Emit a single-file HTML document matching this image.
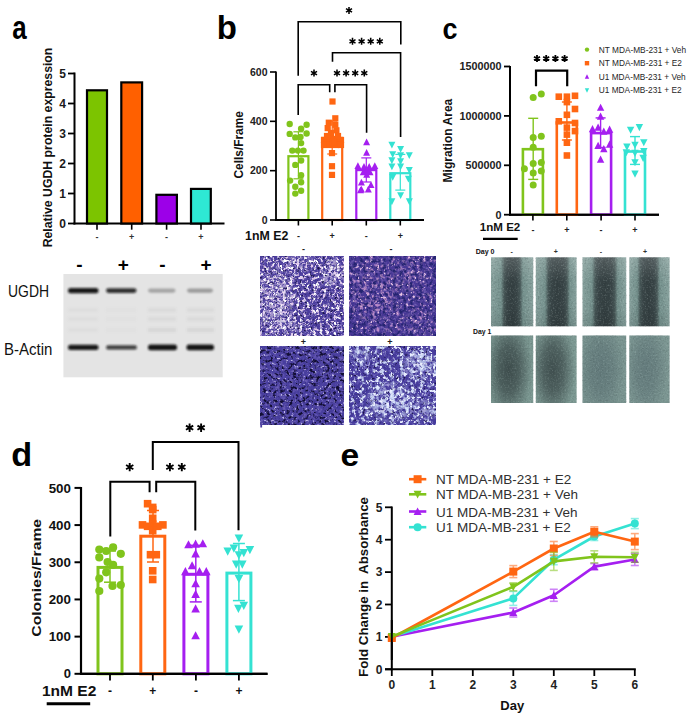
<!DOCTYPE html><html><head><meta charset="utf-8"><style>html,body{margin:0;padding:0;background:#fff;width:689px;height:720px;overflow:hidden}svg{display:block}text{font-family:"Liberation Sans",sans-serif}</style></head><body>
<svg width="689" height="720" viewBox="0 0 689 720">
<defs>
<filter id="blur1" x="-20%" y="-50%" width="140%" height="200%"><feGaussianBlur stdDeviation="1.3"/></filter>
<filter id="blur05"><feGaussianBlur stdDeviation="0.6"/></filter>
</defs>
<rect width="689" height="720" fill="#fff"/>
<text transform="translate(12.3,39) scale(0.81,1.03)" x="0" y="0" font-size="32" font-weight="bold">a</text>
<line x1="74.5" y1="72.5" x2="74.5" y2="224.5" stroke="#000" stroke-width="2"/>
<line x1="68" y1="223.5" x2="74.5" y2="223.5" stroke="#000" stroke-width="1.8"/>
<text x="66" y="227.8" font-size="12" font-weight="bold" text-anchor="end" fill="#1a1a1a">0</text>
<line x1="68" y1="193.5" x2="74.5" y2="193.5" stroke="#000" stroke-width="1.8"/>
<text x="66" y="197.8" font-size="12" font-weight="bold" text-anchor="end" fill="#1a1a1a">1</text>
<line x1="68" y1="163.5" x2="74.5" y2="163.5" stroke="#000" stroke-width="1.8"/>
<text x="66" y="167.8" font-size="12" font-weight="bold" text-anchor="end" fill="#1a1a1a">2</text>
<line x1="68" y1="133.5" x2="74.5" y2="133.5" stroke="#000" stroke-width="1.8"/>
<text x="66" y="137.8" font-size="12" font-weight="bold" text-anchor="end" fill="#1a1a1a">3</text>
<line x1="68" y1="103.5" x2="74.5" y2="103.5" stroke="#000" stroke-width="1.8"/>
<text x="66" y="107.8" font-size="12" font-weight="bold" text-anchor="end" fill="#1a1a1a">4</text>
<line x1="68" y1="73.5" x2="74.5" y2="73.5" stroke="#000" stroke-width="1.8"/>
<text x="66" y="77.8" font-size="12" font-weight="bold" text-anchor="end" fill="#1a1a1a">5</text>
<line x1="73.5" y1="223.5" x2="224.5" y2="223.5" stroke="#000" stroke-width="2.2"/>
<text transform="translate(51.8,147.5) rotate(-90)" x="0" y="0" font-size="12.3" font-weight="bold" text-anchor="middle" fill="#111" textLength="199.7" lengthAdjust="spacingAndGlyphs">Relative UGDH protein expression</text>
<rect x="87" y="90.3" width="20" height="133.2" fill="#7cc400" stroke="#000" stroke-width="2.2"/>
<rect x="121.3" y="82.4" width="20.799999999999997" height="141.1" fill="#ff6000" stroke="#000" stroke-width="2.2"/>
<rect x="156.4" y="194.8" width="20.5" height="28.69999999999999" fill="#9c00e8" stroke="#000" stroke-width="2.2"/>
<rect x="191" y="188.9" width="19.80000000000001" height="34.599999999999994" fill="#2ee8d4" stroke="#000" stroke-width="2.2"/>
<line x1="97" y1="224" x2="97" y2="229.7" stroke="#000" stroke-width="1.6"/>
<text x="97" y="240" font-size="9" font-weight="bold" text-anchor="middle" fill="#333">-</text>
<line x1="131.7" y1="224" x2="131.7" y2="229.7" stroke="#000" stroke-width="1.6"/>
<text x="131.7" y="240" font-size="9" font-weight="bold" text-anchor="middle" fill="#333">+</text>
<line x1="166.6" y1="224" x2="166.6" y2="229.7" stroke="#000" stroke-width="1.6"/>
<text x="166.6" y="240" font-size="9" font-weight="bold" text-anchor="middle" fill="#333">-</text>
<line x1="201" y1="224" x2="201" y2="229.7" stroke="#000" stroke-width="1.6"/>
<text x="201" y="240" font-size="9" font-weight="bold" text-anchor="middle" fill="#333">+</text>
<rect x="63.4" y="274" width="159.3" height="103.3" fill="#e4e4e4" stroke="none" stroke-width="0"/>
<text x="79.3" y="271" font-size="19" font-weight="bold" text-anchor="middle" fill="#000">-</text>
<text x="123.3" y="271" font-size="19" font-weight="bold" text-anchor="middle" fill="#000">+</text>
<text x="162.3" y="271" font-size="19" font-weight="bold" text-anchor="middle" fill="#000">-</text>
<text x="206" y="271" font-size="19" font-weight="bold" text-anchor="middle" fill="#000">+</text>
<text x="8" y="296.5" font-size="16" font-weight="normal" text-anchor="start" fill="#111" textLength="41" lengthAdjust="spacingAndGlyphs">UGDH</text>
<text x="4" y="355" font-size="16" font-weight="normal" text-anchor="start" fill="#111" textLength="48.3" lengthAdjust="spacingAndGlyphs">B-Actin</text>
<g filter="url(#blur1)">
<rect x="68" y="288.0" width="30.5" height="5.2" rx="2.5" fill="#111" opacity="0.95"/>
<rect x="106" y="288.3" width="30.5" height="4.6" rx="2.5" fill="#111" opacity="0.85"/>
<rect x="148" y="288.5" width="27.5" height="4.2" rx="2.5" fill="#111" opacity="0.28"/>
<rect x="187" y="288.5" width="26" height="4.2" rx="2.5" fill="#111" opacity="0.32"/>
<rect x="68" y="308" width="30" height="4" fill="#777" opacity="0.06"/>
<rect x="68" y="317" width="30" height="4" fill="#777" opacity="0.06"/>
<rect x="68" y="328" width="30" height="4" fill="#777" opacity="0.06"/>
<rect x="106" y="308" width="30" height="4" fill="#777" opacity="0.04"/>
<rect x="106" y="317" width="30" height="4" fill="#777" opacity="0.04"/>
<rect x="106" y="328" width="30" height="4" fill="#777" opacity="0.04"/>
<rect x="148" y="308" width="28" height="4" fill="#777" opacity="0.09"/>
<rect x="148" y="317" width="28" height="4" fill="#777" opacity="0.09"/>
<rect x="148" y="328" width="28" height="4" fill="#777" opacity="0.12"/>
<rect x="187" y="308" width="27" height="4" fill="#777" opacity="0.09"/>
<rect x="187" y="317" width="27" height="4" fill="#777" opacity="0.09"/>
<rect x="187" y="328" width="27" height="4" fill="#777" opacity="0.12"/>
<rect x="68" y="344.7" width="30.5" height="5.4" rx="2.5" fill="#111" opacity="0.95"/>
<rect x="106" y="345.2" width="31" height="4.4" rx="2.5" fill="#111" opacity="0.78"/>
<rect x="148" y="344.59999999999997" width="29" height="5.6" rx="2.5" fill="#111" opacity="0.97"/>
<rect x="186.5" y="344.5" width="27.5" height="5.8" rx="2.5" fill="#111" opacity="0.97"/>
</g>
<text transform="translate(216.8,39.2) scale(1.0,1.03)" x="0" y="0" font-size="33" font-weight="bold">b</text>
<line x1="276" y1="71.5" x2="276" y2="221" stroke="#000" stroke-width="1.8"/>
<line x1="270" y1="220.0" x2="276" y2="220.0" stroke="#000" stroke-width="1.6"/>
<text x="267.5" y="223.8" font-size="10.5" font-weight="bold" text-anchor="end" fill="#222">0</text>
<line x1="270" y1="170.66666666666666" x2="276" y2="170.66666666666666" stroke="#000" stroke-width="1.6"/>
<text x="267.5" y="174.46666666666667" font-size="10.5" font-weight="bold" text-anchor="end" fill="#222">200</text>
<line x1="270" y1="121.33333333333333" x2="276" y2="121.33333333333333" stroke="#000" stroke-width="1.6"/>
<text x="267.5" y="125.13333333333333" font-size="10.5" font-weight="bold" text-anchor="end" fill="#222">400</text>
<line x1="270" y1="72.0" x2="276" y2="72.0" stroke="#000" stroke-width="1.6"/>
<text x="267.5" y="75.8" font-size="10.5" font-weight="bold" text-anchor="end" fill="#222">600</text>
<line x1="275" y1="220" x2="424" y2="220" stroke="#000" stroke-width="1.8"/>
<text transform="translate(243,144.8) rotate(-90)" x="0" y="0" font-size="12" font-weight="bold" text-anchor="middle" fill="#111" textLength="67.4" lengthAdjust="spacingAndGlyphs">Cells/Frame</text>
<rect x="288.4" y="156.2" width="20" height="63.80000000000001" fill="none" stroke="#80c41c" stroke-width="2.2"/>
<rect x="322.2" y="137.9" width="20" height="82.1" fill="none" stroke="#ff6612" stroke-width="2.2"/>
<rect x="356.3" y="170.1" width="20" height="49.900000000000006" fill="none" stroke="#a51ff0" stroke-width="2.2"/>
<rect x="390.3" y="173.2" width="20" height="46.80000000000001" fill="none" stroke="#34e2d2" stroke-width="2.2"/>
<line x1="275" y1="220" x2="424" y2="220" stroke="#000" stroke-width="1.8"/>
<circle cx="289.7" cy="124.0" r="3.2" fill="#80c41c"/>
<circle cx="306.6" cy="124.8" r="3.2" fill="#80c41c"/>
<circle cx="301.1" cy="128.7" r="3.2" fill="#80c41c"/>
<circle cx="289.7" cy="133.9" r="3.2" fill="#80c41c"/>
<circle cx="306.6" cy="133.5" r="3.2" fill="#80c41c"/>
<circle cx="295.3" cy="137.4" r="3.2" fill="#80c41c"/>
<circle cx="300.5" cy="137.0" r="3.2" fill="#80c41c"/>
<circle cx="301.1" cy="143.1" r="3.2" fill="#80c41c"/>
<circle cx="292.3" cy="150.6" r="3.2" fill="#80c41c"/>
<circle cx="297.9" cy="150.6" r="3.2" fill="#80c41c"/>
<circle cx="303.5" cy="150.6" r="3.2" fill="#80c41c"/>
<circle cx="301.1" cy="160.5" r="3.2" fill="#80c41c"/>
<circle cx="295.3" cy="164.9" r="3.2" fill="#80c41c"/>
<circle cx="301.1" cy="175.3" r="3.2" fill="#80c41c"/>
<circle cx="290.1" cy="180.6" r="3.2" fill="#80c41c"/>
<circle cx="301.1" cy="182.3" r="3.2" fill="#80c41c"/>
<circle cx="295.3" cy="186.7" r="3.2" fill="#80c41c"/>
<circle cx="301.1" cy="190.7" r="3.2" fill="#80c41c"/>
<circle cx="295.3" cy="193.6" r="3.2" fill="#80c41c"/>
<rect x="329.4" y="98.4" width="6.2" height="6.2" fill="#ff6612"/>
<rect x="332.2" y="115.2" width="6.2" height="6.2" fill="#ff6612"/>
<rect x="325.7" y="119.60000000000001" width="6.2" height="6.2" fill="#ff6612"/>
<rect x="332.2" y="121.7" width="6.2" height="6.2" fill="#ff6612"/>
<rect x="324.59999999999997" y="125.0" width="6.2" height="6.2" fill="#ff6612"/>
<rect x="333.29999999999995" y="127.20000000000002" width="6.2" height="6.2" fill="#ff6612"/>
<rect x="327.9" y="129.9" width="6.2" height="6.2" fill="#ff6612"/>
<rect x="320.9" y="136.9" width="6.2" height="6.2" fill="#ff6612"/>
<rect x="326.9" y="135.9" width="6.2" height="6.2" fill="#ff6612"/>
<rect x="332.9" y="135.9" width="6.2" height="6.2" fill="#ff6612"/>
<rect x="337.9" y="136.9" width="6.2" height="6.2" fill="#ff6612"/>
<rect x="320.9" y="141.9" width="6.2" height="6.2" fill="#ff6612"/>
<rect x="326.9" y="141.9" width="6.2" height="6.2" fill="#ff6612"/>
<rect x="332.9" y="141.9" width="6.2" height="6.2" fill="#ff6612"/>
<rect x="337.9" y="141.9" width="6.2" height="6.2" fill="#ff6612"/>
<rect x="323.9" y="132.9" width="6.2" height="6.2" fill="#ff6612"/>
<rect x="334.9" y="132.9" width="6.2" height="6.2" fill="#ff6612"/>
<rect x="329.9" y="138.9" width="6.2" height="6.2" fill="#ff6612"/>
<rect x="328.9" y="150.0" width="6.2" height="6.2" fill="#ff6612"/>
<rect x="328.9" y="163.1" width="6.2" height="6.2" fill="#ff6612"/>
<rect x="328.9" y="171.8" width="6.2" height="6.2" fill="#ff6612"/>
<polygon points="366.7,166.35 363.2,173.15 370.2,173.15" fill="#a51ff0"/>
<polygon points="363.3,168.54999999999998 359.8,175.35 366.8,175.35" fill="#a51ff0"/>
<polygon points="370,168.54999999999998 366.5,175.35 373.5,175.35" fill="#a51ff0"/>
<polygon points="366.7,170.85 363.2,177.65 370.2,177.65" fill="#a51ff0"/>
<polygon points="366.6,138.54999999999998 363.1,145.35 370.1,145.35" fill="#a51ff0"/>
<polygon points="366.6,149.04999999999998 363.1,155.85 370.1,155.85" fill="#a51ff0"/>
<polygon points="357.9,162.15 354.4,168.95000000000002 361.4,168.95000000000002" fill="#a51ff0"/>
<polygon points="364,162.95 360.5,169.75 367.5,169.75" fill="#a51ff0"/>
<polygon points="369.2,162.95 365.7,169.75 372.7,169.75" fill="#a51ff0"/>
<polygon points="374.8,162.15 371.3,168.95000000000002 378.3,168.95000000000002" fill="#a51ff0"/>
<polygon points="365.7,168.25 362.2,175.05 369.2,175.05" fill="#a51ff0"/>
<polygon points="361.4,178.65 357.9,185.45000000000002 364.9,185.45000000000002" fill="#a51ff0"/>
<polygon points="361.4,185.65 357.9,192.45000000000002 364.9,192.45000000000002" fill="#a51ff0"/>
<polygon points="371,181.25 367.5,188.05 374.5,188.05" fill="#a51ff0"/>
<polygon points="368.3,185.65 364.8,192.45000000000002 371.8,192.45000000000002" fill="#a51ff0"/>
<polygon points="360.5,186.45 357.0,193.25 364.0,193.25" fill="#a51ff0"/>
<polygon points="391.9,148.55 388.4,141.75 395.4,141.75" fill="#34e2d2"/>
<polygon points="400.6,152.85 397.1,146.04999999999998 404.1,146.04999999999998" fill="#34e2d2"/>
<polygon points="392.7,158.05 389.2,151.25 396.2,151.25" fill="#34e2d2"/>
<polygon points="400.6,158.95000000000002 397.1,152.15 404.1,152.15" fill="#34e2d2"/>
<polygon points="409.3,158.95000000000002 405.8,152.15 412.8,152.15" fill="#34e2d2"/>
<polygon points="391.9,164.15 388.4,157.35 395.4,157.35" fill="#34e2d2"/>
<polygon points="400.6,165.05 397.1,158.25 404.1,158.25" fill="#34e2d2"/>
<polygon points="391.9,170.25 388.4,163.45 395.4,163.45" fill="#34e2d2"/>
<polygon points="400.6,170.25 397.1,163.45 404.1,163.45" fill="#34e2d2"/>
<polygon points="409.3,173.75 405.8,166.95 412.8,166.95" fill="#34e2d2"/>
<polygon points="392.7,180.75 389.2,173.95 396.2,173.95" fill="#34e2d2"/>
<polygon points="408.4,182.45000000000002 404.9,175.65 411.9,175.65" fill="#34e2d2"/>
<polygon points="400.6,199.05 397.1,192.25 404.1,192.25" fill="#34e2d2"/>
<polygon points="391.9,205.15 388.4,198.35 395.4,198.35" fill="#34e2d2"/>
<polygon points="409.3,205.15 405.8,198.35 412.8,198.35" fill="#34e2d2"/>
<line x1="298.4" y1="131.8" x2="298.4" y2="178.8" stroke="#80c41c" stroke-width="1.2"/>
<line x1="293.4" y1="131.8" x2="303.4" y2="131.8" stroke="#80c41c" stroke-width="1.2"/>
<line x1="293.4" y1="178.8" x2="303.4" y2="178.8" stroke="#80c41c" stroke-width="1.2"/>
<line x1="332.2" y1="121" x2="332.2" y2="154" stroke="#ff6612" stroke-width="1.2"/>
<line x1="327.2" y1="121" x2="337.2" y2="121" stroke="#ff6612" stroke-width="1.2"/>
<line x1="327.2" y1="154" x2="337.2" y2="154" stroke="#ff6612" stroke-width="1.2"/>
<line x1="366.3" y1="157.9" x2="366.3" y2="182" stroke="#a51ff0" stroke-width="1.2"/>
<line x1="361.3" y1="157.9" x2="371.3" y2="157.9" stroke="#a51ff0" stroke-width="1.2"/>
<line x1="361.3" y1="182" x2="371.3" y2="182" stroke="#a51ff0" stroke-width="1.2"/>
<line x1="400.3" y1="154.4" x2="400.3" y2="190.1" stroke="#34e2d2" stroke-width="1.2"/>
<line x1="395.3" y1="154.4" x2="405.3" y2="154.4" stroke="#34e2d2" stroke-width="1.2"/>
<line x1="395.3" y1="190.1" x2="405.3" y2="190.1" stroke="#34e2d2" stroke-width="1.2"/>
<polyline points="298.2,75.8 298.2,21.8 400.8,21.8 400.8,44.4" fill="none" stroke="#000" stroke-width="1.6" stroke-linejoin="miter" stroke-linecap="butt"/>
<polyline points="332.5,61.8 332.5,52.8 400.6,52.8 400.6,137" fill="none" stroke="#000" stroke-width="1.6" stroke-linejoin="miter" stroke-linecap="butt"/>
<polyline points="298.2,115 298.2,84.8 329.7,84.8 329.7,92.3" fill="none" stroke="#000" stroke-width="1.6" stroke-linejoin="miter" stroke-linecap="butt"/>
<polyline points="334.9,92.3 334.9,84.8 366.6,84.8 366.6,132.7" fill="none" stroke="#000" stroke-width="1.6" stroke-linejoin="miter" stroke-linecap="butt"/>
<path d="M349.00,6.90L349.00,13.90M345.97,8.65L352.03,12.15M352.03,8.65L345.97,12.15" stroke="#000" stroke-width="1.55" fill="none"/>
<path d="M352.50,37.80L352.50,44.80M349.47,39.55L355.53,43.05M355.53,39.55L349.47,43.05" stroke="#000" stroke-width="1.55" fill="none"/>
<path d="M361.60,37.80L361.60,44.80M358.57,39.55L364.63,43.05M364.63,39.55L358.57,43.05" stroke="#000" stroke-width="1.55" fill="none"/>
<path d="M370.70,37.80L370.70,44.80M367.67,39.55L373.73,43.05M373.73,39.55L367.67,43.05" stroke="#000" stroke-width="1.55" fill="none"/>
<path d="M379.80,37.80L379.80,44.80M376.77,39.55L382.83,43.05M382.83,39.55L376.77,43.05" stroke="#000" stroke-width="1.55" fill="none"/>
<path d="M314.00,69.60L314.00,76.60M310.97,71.35L317.03,74.85M317.03,71.35L310.97,74.85" stroke="#000" stroke-width="1.55" fill="none"/>
<path d="M337.00,69.60L337.00,76.60M333.97,71.35L340.03,74.85M340.03,71.35L333.97,74.85" stroke="#000" stroke-width="1.55" fill="none"/>
<path d="M346.10,69.60L346.10,76.60M343.07,71.35L349.13,74.85M349.13,71.35L343.07,74.85" stroke="#000" stroke-width="1.55" fill="none"/>
<path d="M355.20,69.60L355.20,76.60M352.17,71.35L358.23,74.85M358.23,71.35L352.17,74.85" stroke="#000" stroke-width="1.55" fill="none"/>
<path d="M364.30,69.60L364.30,76.60M361.27,71.35L367.33,74.85M367.33,71.35L361.27,74.85" stroke="#000" stroke-width="1.55" fill="none"/>
<line x1="298.4" y1="220" x2="298.4" y2="225.5" stroke="#000" stroke-width="1.6"/>
<text x="298.4" y="238.5" font-size="9" font-weight="bold" text-anchor="middle" fill="#222">-</text>
<line x1="332.2" y1="220" x2="332.2" y2="225.5" stroke="#000" stroke-width="1.6"/>
<text x="332.2" y="238.5" font-size="9" font-weight="bold" text-anchor="middle" fill="#222">+</text>
<line x1="366.3" y1="220" x2="366.3" y2="225.5" stroke="#000" stroke-width="1.6"/>
<text x="366.3" y="238.5" font-size="9" font-weight="bold" text-anchor="middle" fill="#222">-</text>
<line x1="400.3" y1="220" x2="400.3" y2="225.5" stroke="#000" stroke-width="1.6"/>
<text x="400.3" y="238.5" font-size="9" font-weight="bold" text-anchor="middle" fill="#222">+</text>
<text x="245" y="239.5" font-size="12.4" font-weight="bold" text-anchor="start" fill="#111" textLength="43.3" lengthAdjust="spacingAndGlyphs">1nM E2</text>
<filter id="nz1" filterUnits="userSpaceOnUse" x="260.5" y="256.5" width="83.5" height="79" color-interpolation-filters="sRGB"><feFlood flood-color="#4a3c9c" result="base"/><feTurbulence type="fractalNoise" baseFrequency="0.3" numOctaves="3" seed="11" result="t0"/><feColorMatrix in="t0" type="matrix" values="0 0 0 0 0  0 0 0 0 0  0 0 0 0 0  1 0 0 0 0" result="a0"/><feComponentTransfer in="a0" result="m0"><feFuncA type="linear" slope="3" intercept="-1.4"/></feComponentTransfer><feFlood flood-color="#7262b8" result="c0"/><feComposite in="c0" in2="m0" operator="in" result="l0"/><feTurbulence type="fractalNoise" baseFrequency="0.3" numOctaves="3" seed="3" result="t1"/><feColorMatrix in="t1" type="matrix" values="0 0 0 0 0  0 0 0 0 0  0 0 0 0 0  1 0 0 0 0" result="a1"/><feComponentTransfer in="a1" result="m1"><feFuncA type="linear" slope="7" intercept="-3.9"/></feComponentTransfer><feFlood flood-color="#ffffff" result="c1"/><feComposite in="c1" in2="m1" operator="in" result="l1"/><feTurbulence type="fractalNoise" baseFrequency="0.35" numOctaves="3" seed="5" result="t2"/><feColorMatrix in="t2" type="matrix" values="0 0 0 0 0  0 0 0 0 0  0 0 0 0 0  1 0 0 0 0" result="a2"/><feComponentTransfer in="a2" result="m2"><feFuncA type="linear" slope="6" intercept="-3.3"/></feComponentTransfer><feFlood flood-color="#e0c8ec" result="c2"/><feComposite in="c2" in2="m2" operator="in" result="l2"/><feTurbulence type="fractalNoise" baseFrequency="0.4" numOctaves="3" seed="7" result="t3"/><feColorMatrix in="t3" type="matrix" values="0 0 0 0 0  0 0 0 0 0  0 0 0 0 0  1 0 0 0 0" result="a3"/><feComponentTransfer in="a3" result="m3"><feFuncA type="linear" slope="6" intercept="-3.6"/></feComponentTransfer><feFlood flood-color="#1c1650" result="c3"/><feComposite in="c3" in2="m3" operator="in" result="l3"/><feMerge result="mg"><feMergeNode in="base"/><feMergeNode in="l0"/><feMergeNode in="l1"/><feMergeNode in="l2"/><feMergeNode in="l3"/></feMerge><feGaussianBlur in="mg" stdDeviation="0.45"/></filter>
<g><rect x="260.5" y="256.5" width="83.5" height="79" fill="#000" filter="url(#nz1)"/></g>
<mask id="mk1" maskUnits="userSpaceOnUse" x="0" y="0" width="689" height="720"><radialGradient id="mk1g0"><stop offset="0" stop-color="#fff" stop-opacity="0.75"/><stop offset="0.6" stop-color="#fff" stop-opacity="0.52"/><stop offset="1" stop-color="#fff" stop-opacity="0"/></radialGradient><ellipse cx="276" cy="300" rx="22" ry="38" fill="url(#mk1g0)"/><radialGradient id="mk1g1"><stop offset="0" stop-color="#fff" stop-opacity="0.75"/><stop offset="0.6" stop-color="#fff" stop-opacity="0.52"/><stop offset="1" stop-color="#fff" stop-opacity="0"/></radialGradient><ellipse cx="334" cy="272" rx="16" ry="18" fill="url(#mk1g1)"/><radialGradient id="mk1g2"><stop offset="0" stop-color="#fff" stop-opacity="0.5"/><stop offset="0.6" stop-color="#fff" stop-opacity="0.35"/><stop offset="1" stop-color="#fff" stop-opacity="0"/></radialGradient><ellipse cx="300" cy="262" rx="16" ry="10" fill="url(#mk1g2)"/><radialGradient id="mk1g3"><stop offset="0" stop-color="#fff" stop-opacity="0.6"/><stop offset="0.6" stop-color="#fff" stop-opacity="0.42"/><stop offset="1" stop-color="#fff" stop-opacity="0"/></radialGradient><ellipse cx="285" cy="326" rx="20" ry="10" fill="url(#mk1g3)"/></mask>
<filter id="nz2" filterUnits="userSpaceOnUse" x="260.5" y="256.5" width="83.5" height="79" color-interpolation-filters="sRGB"><feFlood flood-color="#000" flood-opacity="0" result="base"/><feTurbulence type="fractalNoise" baseFrequency="0.3" numOctaves="3" seed="61" result="t0"/><feColorMatrix in="t0" type="matrix" values="0 0 0 0 0  0 0 0 0 0  0 0 0 0 0  1 0 0 0 0" result="a0"/><feComponentTransfer in="a0" result="m0"><feFuncA type="linear" slope="5" intercept="-2.5"/></feComponentTransfer><feFlood flood-color="#ffffff" result="c0"/><feComposite in="c0" in2="m0" operator="in" result="l0"/><feTurbulence type="fractalNoise" baseFrequency="0.35" numOctaves="3" seed="62" result="t1"/><feColorMatrix in="t1" type="matrix" values="0 0 0 0 0  0 0 0 0 0  0 0 0 0 0  1 0 0 0 0" result="a1"/><feComponentTransfer in="a1" result="m1"><feFuncA type="linear" slope="6" intercept="-3.0"/></feComponentTransfer><feFlood flood-color="#e8d8f4" result="c1"/><feComposite in="c1" in2="m1" operator="in" result="l1"/><feMerge result="mg"><feMergeNode in="base"/><feMergeNode in="l0"/><feMergeNode in="l1"/></feMerge><feGaussianBlur in="mg" stdDeviation="0.45"/></filter>
<g mask="url(#mk1)"><rect x="260.5" y="256.5" width="83.5" height="79" fill="#000" filter="url(#nz2)"/></g>
<filter id="nz3" filterUnits="userSpaceOnUse" x="349.5" y="256.5" width="86" height="79" color-interpolation-filters="sRGB"><feFlood flood-color="#483896" result="base"/><feTurbulence type="fractalNoise" baseFrequency="0.3" numOctaves="3" seed="21" result="t0"/><feColorMatrix in="t0" type="matrix" values="0 0 0 0 0  0 0 0 0 0  0 0 0 0 0  1 0 0 0 0" result="a0"/><feComponentTransfer in="a0" result="m0"><feFuncA type="linear" slope="3" intercept="-1.4"/></feComponentTransfer><feFlood flood-color="#7460b4" result="c0"/><feComposite in="c0" in2="m0" operator="in" result="l0"/><feTurbulence type="fractalNoise" baseFrequency="0.25" numOctaves="3" seed="13" result="t1"/><feColorMatrix in="t1" type="matrix" values="0 0 0 0 0  0 0 0 0 0  0 0 0 0 0  1 0 0 0 0" result="a1"/><feComponentTransfer in="a1" result="m1"><feFuncA type="linear" slope="5" intercept="-2.8"/></feComponentTransfer><feFlood flood-color="#b888c8" result="c1"/><feComposite in="c1" in2="m1" operator="in" result="l1"/><feTurbulence type="fractalNoise" baseFrequency="0.3" numOctaves="3" seed="19" result="t2"/><feColorMatrix in="t2" type="matrix" values="0 0 0 0 0  0 0 0 0 0  0 0 0 0 0  1 0 0 0 0" result="a2"/><feComponentTransfer in="a2" result="m2"><feFuncA type="linear" slope="7" intercept="-4.3"/></feComponentTransfer><feFlood flood-color="#e8c4e4" result="c2"/><feComposite in="c2" in2="m2" operator="in" result="l2"/><feTurbulence type="fractalNoise" baseFrequency="0.3" numOctaves="3" seed="17" result="t3"/><feColorMatrix in="t3" type="matrix" values="0 0 0 0 0  0 0 0 0 0  0 0 0 0 0  1 0 0 0 0" result="a3"/><feComponentTransfer in="a3" result="m3"><feFuncA type="linear" slope="4" intercept="-1.85"/></feComponentTransfer><feFlood flood-color="#242470" result="c3"/><feComposite in="c3" in2="m3" operator="in" result="l3"/><feMerge result="mg"><feMergeNode in="base"/><feMergeNode in="l0"/><feMergeNode in="l1"/><feMergeNode in="l2"/><feMergeNode in="l3"/></feMerge><feGaussianBlur in="mg" stdDeviation="0.45"/></filter>
<g><rect x="349.5" y="256.5" width="86" height="79" fill="#000" filter="url(#nz3)"/></g>
<mask id="mk2" maskUnits="userSpaceOnUse" x="0" y="0" width="689" height="720"><radialGradient id="mk2g0"><stop offset="0" stop-color="#fff" stop-opacity="1"/><stop offset="0.6" stop-color="#fff" stop-opacity="0.70"/><stop offset="1" stop-color="#fff" stop-opacity="0"/></radialGradient><ellipse cx="375" cy="295" rx="25" ry="35" fill="url(#mk2g0)"/><radialGradient id="mk2g1"><stop offset="0" stop-color="#fff" stop-opacity="0.7"/><stop offset="0.6" stop-color="#fff" stop-opacity="0.49"/><stop offset="1" stop-color="#fff" stop-opacity="0"/></radialGradient><ellipse cx="410" cy="275" rx="20" ry="18" fill="url(#mk2g1)"/><radialGradient id="mk2g2"><stop offset="0" stop-color="#fff" stop-opacity="0.6"/><stop offset="0.6" stop-color="#fff" stop-opacity="0.42"/><stop offset="1" stop-color="#fff" stop-opacity="0"/></radialGradient><ellipse cx="420" cy="320" rx="18" ry="14" fill="url(#mk2g2)"/></mask>
<filter id="nz4" filterUnits="userSpaceOnUse" x="349.5" y="256.5" width="86" height="79" color-interpolation-filters="sRGB"><feFlood flood-color="#000" flood-opacity="0" result="base"/><feTurbulence type="fractalNoise" baseFrequency="0.25" numOctaves="3" seed="63" result="t0"/><feColorMatrix in="t0" type="matrix" values="0 0 0 0 0  0 0 0 0 0  0 0 0 0 0  1 0 0 0 0" result="a0"/><feComponentTransfer in="a0" result="m0"><feFuncA type="linear" slope="5" intercept="-2.7"/></feComponentTransfer><feFlood flood-color="#c898cc" result="c0"/><feComposite in="c0" in2="m0" operator="in" result="l0"/><feMerge result="mg"><feMergeNode in="base"/><feMergeNode in="l0"/></feMerge><feGaussianBlur in="mg" stdDeviation="0.45"/></filter>
<g mask="url(#mk2)"><rect x="349.5" y="256.5" width="86" height="79" fill="#000" filter="url(#nz4)"/></g>
<filter id="nz5" filterUnits="userSpaceOnUse" x="260.5" y="346.5" width="83.5" height="78.5" color-interpolation-filters="sRGB"><feFlood flood-color="#483e9e" result="base"/><feTurbulence type="fractalNoise" baseFrequency="0.3" numOctaves="3" seed="31" result="t0"/><feColorMatrix in="t0" type="matrix" values="0 0 0 0 0  0 0 0 0 0  0 0 0 0 0  1 0 0 0 0" result="a0"/><feComponentTransfer in="a0" result="m0"><feFuncA type="linear" slope="3" intercept="-1.4"/></feComponentTransfer><feFlood flood-color="#6e60b8" result="c0"/><feComposite in="c0" in2="m0" operator="in" result="l0"/><feTurbulence type="fractalNoise" baseFrequency="0.35" numOctaves="3" seed="23" result="t1"/><feColorMatrix in="t1" type="matrix" values="0 0 0 0 0  0 0 0 0 0  0 0 0 0 0  1 0 0 0 0" result="a1"/><feComponentTransfer in="a1" result="m1"><feFuncA type="linear" slope="6" intercept="-3.8"/></feComponentTransfer><feFlood flood-color="#c0b8e8" result="c1"/><feComposite in="c1" in2="m1" operator="in" result="l1"/><feTurbulence type="fractalNoise" baseFrequency="0.3" numOctaves="3" seed="27" result="t2"/><feColorMatrix in="t2" type="matrix" values="0 0 0 0 0  0 0 0 0 0  0 0 0 0 0  1 0 0 0 0" result="a2"/><feComponentTransfer in="a2" result="m2"><feFuncA type="linear" slope="5" intercept="-2.6"/></feComponentTransfer><feFlood flood-color="#120e34" result="c2"/><feComposite in="c2" in2="m2" operator="in" result="l2"/><feMerge result="mg"><feMergeNode in="base"/><feMergeNode in="l0"/><feMergeNode in="l1"/><feMergeNode in="l2"/></feMerge><feGaussianBlur in="mg" stdDeviation="0.45"/></filter>
<g><rect x="260.5" y="346.5" width="83.5" height="78.5" fill="#000" filter="url(#nz5)"/></g>
<filter id="nz6" filterUnits="userSpaceOnUse" x="349.5" y="346.5" width="86" height="78.5" color-interpolation-filters="sRGB"><feFlood flood-color="#463b9c" result="base"/><feTurbulence type="fractalNoise" baseFrequency="0.3" numOctaves="3" seed="41" result="t0"/><feColorMatrix in="t0" type="matrix" values="0 0 0 0 0  0 0 0 0 0  0 0 0 0 0  1 0 0 0 0" result="a0"/><feComponentTransfer in="a0" result="m0"><feFuncA type="linear" slope="3" intercept="-1.4"/></feComponentTransfer><feFlood flood-color="#6a5eb8" result="c0"/><feComposite in="c0" in2="m0" operator="in" result="l0"/><feTurbulence type="fractalNoise" baseFrequency="0.2" numOctaves="3" seed="33" result="t1"/><feColorMatrix in="t1" type="matrix" values="0 0 0 0 0  0 0 0 0 0  0 0 0 0 0  1 0 0 0 0" result="a1"/><feComponentTransfer in="a1" result="m1"><feFuncA type="linear" slope="5" intercept="-2.7"/></feComponentTransfer><feFlood flood-color="#c8d4f4" result="c1"/><feComposite in="c1" in2="m1" operator="in" result="l1"/><feTurbulence type="fractalNoise" baseFrequency="0.3" numOctaves="3" seed="43" result="t2"/><feColorMatrix in="t2" type="matrix" values="0 0 0 0 0  0 0 0 0 0  0 0 0 0 0  1 0 0 0 0" result="a2"/><feComponentTransfer in="a2" result="m2"><feFuncA type="linear" slope="7" intercept="-4.0"/></feComponentTransfer><feFlood flood-color="#e8eeff" result="c2"/><feComposite in="c2" in2="m2" operator="in" result="l2"/><feTurbulence type="fractalNoise" baseFrequency="0.35" numOctaves="3" seed="37" result="t3"/><feColorMatrix in="t3" type="matrix" values="0 0 0 0 0  0 0 0 0 0  0 0 0 0 0  1 0 0 0 0" result="a3"/><feComponentTransfer in="a3" result="m3"><feFuncA type="linear" slope="5" intercept="-3.1"/></feComponentTransfer><feFlood flood-color="#1c1448" result="c3"/><feComposite in="c3" in2="m3" operator="in" result="l3"/><feMerge result="mg"><feMergeNode in="base"/><feMergeNode in="l0"/><feMergeNode in="l1"/><feMergeNode in="l2"/><feMergeNode in="l3"/></feMerge><feGaussianBlur in="mg" stdDeviation="0.45"/></filter>
<g><rect x="349.5" y="346.5" width="86" height="78.5" fill="#000" filter="url(#nz6)"/></g>
<mask id="mk4" maskUnits="userSpaceOnUse" x="0" y="0" width="689" height="720"><radialGradient id="mk4g0"><stop offset="0" stop-color="#fff" stop-opacity="1"/><stop offset="0.6" stop-color="#fff" stop-opacity="0.70"/><stop offset="1" stop-color="#fff" stop-opacity="0"/></radialGradient><ellipse cx="392" cy="402" rx="28" ry="22" fill="url(#mk4g0)"/><radialGradient id="mk4g1"><stop offset="0" stop-color="#fff" stop-opacity="0.9"/><stop offset="0.6" stop-color="#fff" stop-opacity="0.63"/><stop offset="1" stop-color="#fff" stop-opacity="0"/></radialGradient><ellipse cx="420" cy="365" rx="18" ry="18" fill="url(#mk4g1)"/><radialGradient id="mk4g2"><stop offset="0" stop-color="#fff" stop-opacity="0.7"/><stop offset="0.6" stop-color="#fff" stop-opacity="0.49"/><stop offset="1" stop-color="#fff" stop-opacity="0"/></radialGradient><ellipse cx="360" cy="356" rx="12" ry="10" fill="url(#mk4g2)"/><radialGradient id="mk4g3"><stop offset="0" stop-color="#fff" stop-opacity="0.6"/><stop offset="0.6" stop-color="#fff" stop-opacity="0.42"/><stop offset="1" stop-color="#fff" stop-opacity="0"/></radialGradient><ellipse cx="425" cy="410" rx="12" ry="12" fill="url(#mk4g3)"/></mask>
<filter id="nz7" filterUnits="userSpaceOnUse" x="349.5" y="346.5" width="86" height="78.5" color-interpolation-filters="sRGB"><feFlood flood-color="#000" flood-opacity="0" result="base"/><feTurbulence type="fractalNoise" baseFrequency="0.22" numOctaves="3" seed="65" result="t0"/><feColorMatrix in="t0" type="matrix" values="0 0 0 0 0  0 0 0 0 0  0 0 0 0 0  1 0 0 0 0" result="a0"/><feComponentTransfer in="a0" result="m0"><feFuncA type="linear" slope="4" intercept="-1.7"/></feComponentTransfer><feFlood flood-color="#c8d6f6" result="c0"/><feComposite in="c0" in2="m0" operator="in" result="l0"/><feTurbulence type="fractalNoise" baseFrequency="0.3" numOctaves="3" seed="66" result="t1"/><feColorMatrix in="t1" type="matrix" values="0 0 0 0 0  0 0 0 0 0  0 0 0 0 0  1 0 0 0 0" result="a1"/><feComponentTransfer in="a1" result="m1"><feFuncA type="linear" slope="6" intercept="-3.2"/></feComponentTransfer><feFlood flood-color="#eef2ff" result="c1"/><feComposite in="c1" in2="m1" operator="in" result="l1"/><feMerge result="mg"><feMergeNode in="base"/><feMergeNode in="l0"/><feMergeNode in="l1"/></feMerge><feGaussianBlur in="mg" stdDeviation="0.45"/></filter>
<g mask="url(#mk4)"><rect x="349.5" y="346.5" width="86" height="78.5" fill="#000" filter="url(#nz7)"/></g>
<rect x="260.3" y="424.5" width="1.8" height="3" fill="#4a3c9c" stroke="none" stroke-width="0"/>
<text x="303.4" y="251.5" font-size="9" font-weight="bold" text-anchor="middle" fill="#222">-</text>
<text x="391" y="251.5" font-size="9" font-weight="bold" text-anchor="middle" fill="#222">-</text>
<text x="303.4" y="344.5" font-size="9" font-weight="bold" text-anchor="middle" fill="#222">+</text>
<text x="390" y="344.5" font-size="9" font-weight="bold" text-anchor="middle" fill="#222">+</text>
<text transform="translate(442.4,39.2) scale(0.9,1.0)" x="0" y="0" font-size="30" font-weight="bold">c</text>
<line x1="510" y1="66" x2="510" y2="215.5" stroke="#000" stroke-width="2"/>
<line x1="504" y1="214.7" x2="510" y2="214.7" stroke="#000" stroke-width="1.8"/>
<text x="501.5" y="218.6" font-size="10.8" font-weight="bold" text-anchor="end" fill="#222">0</text>
<line x1="504" y1="165.3" x2="510" y2="165.3" stroke="#000" stroke-width="1.8"/>
<text x="501.5" y="169.20000000000002" font-size="10.8" font-weight="bold" text-anchor="end" fill="#222">500000</text>
<line x1="504" y1="115.9" x2="510" y2="115.9" stroke="#000" stroke-width="1.8"/>
<text x="501.5" y="119.80000000000001" font-size="10.8" font-weight="bold" text-anchor="end" fill="#222">1000000</text>
<line x1="504" y1="66.5" x2="510" y2="66.5" stroke="#000" stroke-width="1.8"/>
<text x="501.5" y="70.4" font-size="10.8" font-weight="bold" text-anchor="end" fill="#222">1500000</text>
<line x1="509" y1="214.7" x2="659" y2="214.7" stroke="#000" stroke-width="2"/>
<text transform="translate(452.3,140.6) rotate(-90)" x="0" y="0" font-size="12" font-weight="bold" text-anchor="middle" fill="#111" textLength="83.7" lengthAdjust="spacingAndGlyphs">Migration Area</text>
<rect x="522.9" y="149.2" width="20" height="65.5" fill="none" stroke="#80c41c" stroke-width="2.6"/>
<rect x="556.8" y="122.5" width="20" height="92.19999999999999" fill="none" stroke="#ff6612" stroke-width="2.6"/>
<rect x="591.1" y="133.1" width="20" height="81.6" fill="none" stroke="#a51ff0" stroke-width="2.6"/>
<rect x="625" y="151.5" width="20" height="63.19999999999999" fill="none" stroke="#34e2d2" stroke-width="2.6"/>
<line x1="509" y1="214.7" x2="659" y2="214.7" stroke="#000" stroke-width="2"/>
<circle cx="533.2" cy="97.4" r="3.5" fill="#80c41c"/>
<circle cx="541.3" cy="93.9" r="3.5" fill="#80c41c"/>
<circle cx="533.2" cy="137.4" r="3.5" fill="#80c41c"/>
<circle cx="541.3" cy="136.2" r="3.5" fill="#80c41c"/>
<circle cx="533.2" cy="147.3" r="3.5" fill="#80c41c"/>
<circle cx="524.4" cy="168.7" r="3.5" fill="#80c41c"/>
<circle cx="533.2" cy="163.6" r="3.5" fill="#80c41c"/>
<circle cx="541.3" cy="162.4" r="3.5" fill="#80c41c"/>
<circle cx="541.3" cy="171" r="3.5" fill="#80c41c"/>
<circle cx="533.2" cy="172.9" r="3.5" fill="#80c41c"/>
<circle cx="533.2" cy="185" r="3.5" fill="#80c41c"/>
<rect x="555.5" y="93.4" width="6.6" height="6.6" fill="#ff6612"/>
<rect x="563.6" y="93.4" width="6.6" height="6.6" fill="#ff6612"/>
<rect x="571.7" y="92.5" width="6.6" height="6.6" fill="#ff6612"/>
<rect x="563.6" y="98.8" width="6.6" height="6.6" fill="#ff6612"/>
<rect x="571.7" y="105.7" width="6.6" height="6.6" fill="#ff6612"/>
<rect x="563.6" y="111.5" width="6.6" height="6.6" fill="#ff6612"/>
<rect x="555.5" y="118.0" width="6.6" height="6.6" fill="#ff6612"/>
<rect x="571.7" y="119.7" width="6.6" height="6.6" fill="#ff6612"/>
<rect x="563.6" y="124.3" width="6.6" height="6.6" fill="#ff6612"/>
<rect x="571.7" y="127.8" width="6.6" height="6.6" fill="#ff6612"/>
<rect x="563.6" y="131.29999999999998" width="6.6" height="6.6" fill="#ff6612"/>
<rect x="563.6" y="139.39999999999998" width="6.6" height="6.6" fill="#ff6612"/>
<rect x="563.6" y="152.2" width="6.6" height="6.6" fill="#ff6612"/>
<polygon points="600.6,103.67 596.9,110.83 604.3000000000001,110.83" fill="#a51ff0"/>
<polygon points="600.6,112.47 596.9,119.63 604.3000000000001,119.63" fill="#a51ff0"/>
<polygon points="592.5,124.97000000000001 588.8,132.13000000000002 596.2,132.13000000000002" fill="#a51ff0"/>
<polygon points="598.1,123.47 594.4,130.63 601.8000000000001,130.63" fill="#a51ff0"/>
<polygon points="603.8,127.47000000000001 600.0999999999999,134.63000000000002 607.5,134.63000000000002" fill="#a51ff0"/>
<polygon points="609.6,125.57000000000001 605.9,132.73000000000002 613.3000000000001,132.73000000000002" fill="#a51ff0"/>
<polygon points="598.1,141.76999999999998 594.4,148.93 601.8000000000001,148.93" fill="#a51ff0"/>
<polygon points="603.8,144.97 600.0999999999999,152.13000000000002 607.5,152.13000000000002" fill="#a51ff0"/>
<polygon points="609.6,140.57 605.9,147.73000000000002 613.3000000000001,147.73000000000002" fill="#a51ff0"/>
<polygon points="600.6,155.57 596.9,162.73000000000002 604.3000000000001,162.73000000000002" fill="#a51ff0"/>
<polygon points="630.6,133.83 626.9,126.67 634.3000000000001,126.67" fill="#34e2d2"/>
<polygon points="639.4,131.13 635.6999999999999,123.97 643.1,123.97" fill="#34e2d2"/>
<polygon points="626.9,150.73000000000002 623.1999999999999,143.57 630.6,143.57" fill="#34e2d2"/>
<polygon points="635,148.83 631.3,141.67 638.7,141.67" fill="#34e2d2"/>
<polygon points="643.8,146.33 640.0999999999999,139.17 647.5,139.17" fill="#34e2d2"/>
<polygon points="626.3,156.33 622.5999999999999,149.17 630.0,149.17" fill="#34e2d2"/>
<polygon points="635,156.93 631.3,149.76999999999998 638.7,149.76999999999998" fill="#34e2d2"/>
<polygon points="643.8,155.13000000000002 640.0999999999999,147.97 647.5,147.97" fill="#34e2d2"/>
<polygon points="643.1,161.93 639.4,154.76999999999998 646.8000000000001,154.76999999999998" fill="#34e2d2"/>
<polygon points="635,166.33 631.3,159.17 638.7,159.17" fill="#34e2d2"/>
<polygon points="635,177.63000000000002 631.3,170.47 638.7,170.47" fill="#34e2d2"/>
<line x1="533.2" y1="118.3" x2="533.2" y2="179.4" stroke="#80c41c" stroke-width="1.4"/>
<line x1="528.2" y1="118.3" x2="538.2" y2="118.3" stroke="#80c41c" stroke-width="1.4"/>
<line x1="528.2" y1="179.4" x2="538.2" y2="179.4" stroke="#80c41c" stroke-width="1.4"/>
<line x1="566.9" y1="102" x2="566.9" y2="140" stroke="#ff6612" stroke-width="1.4"/>
<line x1="561.9" y1="102" x2="571.9" y2="102" stroke="#ff6612" stroke-width="1.4"/>
<line x1="561.9" y1="140" x2="571.9" y2="140" stroke="#ff6612" stroke-width="1.4"/>
<line x1="600.6" y1="117.9" x2="600.6" y2="147.5" stroke="#a51ff0" stroke-width="1.4"/>
<line x1="595.6" y1="117.9" x2="605.6" y2="117.9" stroke="#a51ff0" stroke-width="1.4"/>
<line x1="595.6" y1="147.5" x2="605.6" y2="147.5" stroke="#a51ff0" stroke-width="1.4"/>
<line x1="635" y1="136.6" x2="635" y2="164.4" stroke="#34e2d2" stroke-width="1.4"/>
<line x1="630.0" y1="136.6" x2="640.0" y2="136.6" stroke="#34e2d2" stroke-width="1.4"/>
<line x1="630.0" y1="164.4" x2="640.0" y2="164.4" stroke="#34e2d2" stroke-width="1.4"/>
<polyline points="536,86.2 536,70.7 567.2,70.7 567.2,86.2" fill="none" stroke="#000" stroke-width="2.2" stroke-linejoin="miter" stroke-linecap="butt"/>
<path d="M537.00,55.00L537.00,62.00M533.97,56.75L540.03,60.25M540.03,56.75L533.97,60.25" stroke="#000" stroke-width="1.8" fill="none"/>
<path d="M546.20,55.00L546.20,62.00M543.17,56.75L549.23,60.25M549.23,56.75L543.17,60.25" stroke="#000" stroke-width="1.8" fill="none"/>
<path d="M555.40,55.00L555.40,62.00M552.37,56.75L558.43,60.25M558.43,56.75L552.37,60.25" stroke="#000" stroke-width="1.8" fill="none"/>
<path d="M564.60,55.00L564.60,62.00M561.57,56.75L567.63,60.25M567.63,56.75L561.57,60.25" stroke="#000" stroke-width="1.8" fill="none"/>
<line x1="532.9" y1="215" x2="532.9" y2="220.5" stroke="#000" stroke-width="1.6"/>
<text x="532.9" y="232.5" font-size="9" font-weight="bold" text-anchor="middle" fill="#222">-</text>
<line x1="566.8" y1="215" x2="566.8" y2="220.5" stroke="#000" stroke-width="1.6"/>
<text x="566.8" y="232.5" font-size="9" font-weight="bold" text-anchor="middle" fill="#222">+</text>
<line x1="601.1" y1="215" x2="601.1" y2="220.5" stroke="#000" stroke-width="1.6"/>
<text x="601.1" y="232.5" font-size="9" font-weight="bold" text-anchor="middle" fill="#222">-</text>
<line x1="635" y1="215" x2="635" y2="220.5" stroke="#000" stroke-width="1.6"/>
<text x="635" y="232.5" font-size="9" font-weight="bold" text-anchor="middle" fill="#222">+</text>
<text x="479.8" y="231.3" font-size="11.5" font-weight="bold" text-anchor="start" fill="#111" textLength="40.5" lengthAdjust="spacingAndGlyphs">1nM E2</text>
<line x1="483" y1="238.8" x2="517.7" y2="238.8" stroke="#000" stroke-width="2.2"/>
<circle cx="587" cy="49.6" r="2.2" fill="#80c41c"/>
<text x="598.8" y="52.6" font-size="8.3" font-weight="normal" text-anchor="start" fill="#262626">NT MDA-MB-231 + Veh</text>
<rect x="584.8" y="61.0" width="4.4" height="4.4" fill="#ff6612"/>
<text x="598.8" y="66.2" font-size="8.3" font-weight="normal" text-anchor="start" fill="#262626">NT MDA-MB-231 + E2</text>
<polygon points="587,74.32 584.8,78.78 589.2,78.78" fill="#a51ff0"/>
<text x="598.8" y="79.8" font-size="8.3" font-weight="normal" text-anchor="start" fill="#262626">U1 MDA-MB-231 + Veh</text>
<polygon points="587,92.68 584.8,88.22 589.2,88.22" fill="#34e2d2"/>
<text x="598.8" y="93.2" font-size="8.3" font-weight="normal" text-anchor="start" fill="#262626">U1 MDA-MB-231 + E2</text>
<linearGradient id="sg8" x1="0" y1="0" x2="1" y2="0"><stop offset="0.000" stop-color="#86a09c"/><stop offset="0.239" stop-color="#74908c"/><stop offset="0.309" stop-color="#465656"/><stop offset="0.384" stop-color="#384446"/><stop offset="0.498" stop-color="#333e40"/><stop offset="0.611" stop-color="#384446"/><stop offset="0.686" stop-color="#465656"/><stop offset="0.756" stop-color="#74908c"/><stop offset="1.000" stop-color="#88a29e"/></linearGradient>
<rect x="491" y="257.3" width="42.200000000000045" height="69" fill="url(#sg8)" opacity="1"/>
<linearGradient id="sg9" x1="0" y1="0" x2="0" y2="1"><stop offset="0.000" stop-color="#ffffff" stop-opacity="0.16"/><stop offset="0.350" stop-color="#ffffff" stop-opacity="0.0"/><stop offset="0.700" stop-color="#000000" stop-opacity="0.0"/><stop offset="1.000" stop-color="#000000" stop-opacity="0.08"/></linearGradient>
<rect x="491" y="257.3" width="42.200000000000045" height="69" fill="url(#sg9)" opacity="1"/>
<filter id="sn10" filterUnits="userSpaceOnUse" x="491" y="257.3" width="42.200000000000045" height="69" color-interpolation-filters="sRGB"><feTurbulence type="fractalNoise" baseFrequency="0.6" numOctaves="2" seed="1" result="t"/><feColorMatrix in="t" type="matrix" values="0 0 0 0 0.9  0 0 0 0 0.97  0 0 0 0 0.95  2.2 0 0 0 -1.1"/></filter>
<rect x="491" y="257.3" width="42.200000000000045" height="69" fill="#000" filter="url(#sn10)" opacity="0.24"/>
<filter id="sn11" filterUnits="userSpaceOnUse" x="491" y="257.3" width="42.200000000000045" height="69" color-interpolation-filters="sRGB"><feTurbulence type="fractalNoise" baseFrequency="0.6" numOctaves="2" seed="11" result="t"/><feColorMatrix in="t" type="matrix" values="0 0 0 0 0.15  0 0 0 0 0.19  0 0 0 0 0.2  2.2 0 0 0 -1.1"/></filter>
<rect x="491" y="257.3" width="42.200000000000045" height="69" fill="#000" filter="url(#sn11)" opacity="0.25"/>
<linearGradient id="sg12" x1="0" y1="0" x2="1" y2="0"><stop offset="0.000" stop-color="#86a09c"/><stop offset="0.230" stop-color="#74908c"/><stop offset="0.300" stop-color="#465656"/><stop offset="0.375" stop-color="#384446"/><stop offset="0.532" stop-color="#333e40"/><stop offset="0.689" stop-color="#384446"/><stop offset="0.764" stop-color="#465656"/><stop offset="0.834" stop-color="#74908c"/><stop offset="1.000" stop-color="#88a29e"/></linearGradient>
<rect x="535.8" y="257.3" width="40.80000000000007" height="69" fill="url(#sg12)" opacity="1"/>
<linearGradient id="sg13" x1="0" y1="0" x2="0" y2="1"><stop offset="0.000" stop-color="#ffffff" stop-opacity="0.16"/><stop offset="0.350" stop-color="#ffffff" stop-opacity="0.0"/><stop offset="0.700" stop-color="#000000" stop-opacity="0.0"/><stop offset="1.000" stop-color="#000000" stop-opacity="0.08"/></linearGradient>
<rect x="535.8" y="257.3" width="40.80000000000007" height="69" fill="url(#sg13)" opacity="1"/>
<filter id="sn14" filterUnits="userSpaceOnUse" x="535.8" y="257.3" width="40.80000000000007" height="69" color-interpolation-filters="sRGB"><feTurbulence type="fractalNoise" baseFrequency="0.6" numOctaves="2" seed="2" result="t"/><feColorMatrix in="t" type="matrix" values="0 0 0 0 0.9  0 0 0 0 0.97  0 0 0 0 0.95  2.2 0 0 0 -1.1"/></filter>
<rect x="535.8" y="257.3" width="40.80000000000007" height="69" fill="#000" filter="url(#sn14)" opacity="0.24"/>
<filter id="sn15" filterUnits="userSpaceOnUse" x="535.8" y="257.3" width="40.80000000000007" height="69" color-interpolation-filters="sRGB"><feTurbulence type="fractalNoise" baseFrequency="0.6" numOctaves="2" seed="12" result="t"/><feColorMatrix in="t" type="matrix" values="0 0 0 0 0.15  0 0 0 0 0.19  0 0 0 0 0.2  2.2 0 0 0 -1.1"/></filter>
<rect x="535.8" y="257.3" width="40.80000000000007" height="69" fill="#000" filter="url(#sn15)" opacity="0.25"/>
<linearGradient id="sg16" x1="0" y1="0" x2="1" y2="0"><stop offset="0.000" stop-color="#86a09c"/><stop offset="0.218" stop-color="#74908c"/><stop offset="0.288" stop-color="#465656"/><stop offset="0.363" stop-color="#384446"/><stop offset="0.513" stop-color="#333e40"/><stop offset="0.662" stop-color="#384446"/><stop offset="0.737" stop-color="#465656"/><stop offset="0.807" stop-color="#74908c"/><stop offset="1.000" stop-color="#88a29e"/></linearGradient>
<rect x="582.5" y="257.3" width="43.700000000000045" height="69" fill="url(#sg16)" opacity="1"/>
<linearGradient id="sg17" x1="0" y1="0" x2="0" y2="1"><stop offset="0.000" stop-color="#ffffff" stop-opacity="0.16"/><stop offset="0.350" stop-color="#ffffff" stop-opacity="0.0"/><stop offset="0.700" stop-color="#000000" stop-opacity="0.0"/><stop offset="1.000" stop-color="#000000" stop-opacity="0.08"/></linearGradient>
<rect x="582.5" y="257.3" width="43.700000000000045" height="69" fill="url(#sg17)" opacity="1"/>
<filter id="sn18" filterUnits="userSpaceOnUse" x="582.5" y="257.3" width="43.700000000000045" height="69" color-interpolation-filters="sRGB"><feTurbulence type="fractalNoise" baseFrequency="0.6" numOctaves="2" seed="3" result="t"/><feColorMatrix in="t" type="matrix" values="0 0 0 0 0.9  0 0 0 0 0.97  0 0 0 0 0.95  2.2 0 0 0 -1.1"/></filter>
<rect x="582.5" y="257.3" width="43.700000000000045" height="69" fill="#000" filter="url(#sn18)" opacity="0.24"/>
<filter id="sn19" filterUnits="userSpaceOnUse" x="582.5" y="257.3" width="43.700000000000045" height="69" color-interpolation-filters="sRGB"><feTurbulence type="fractalNoise" baseFrequency="0.6" numOctaves="2" seed="13" result="t"/><feColorMatrix in="t" type="matrix" values="0 0 0 0 0.15  0 0 0 0 0.19  0 0 0 0 0.2  2.2 0 0 0 -1.1"/></filter>
<rect x="582.5" y="257.3" width="43.700000000000045" height="69" fill="#000" filter="url(#sn19)" opacity="0.25"/>
<linearGradient id="sg20" x1="0" y1="0" x2="1" y2="0"><stop offset="0.000" stop-color="#86a09c"/><stop offset="0.196" stop-color="#74908c"/><stop offset="0.266" stop-color="#465656"/><stop offset="0.341" stop-color="#384446"/><stop offset="0.476" stop-color="#333e40"/><stop offset="0.612" stop-color="#384446"/><stop offset="0.687" stop-color="#465656"/><stop offset="0.757" stop-color="#74908c"/><stop offset="1.000" stop-color="#88a29e"/></linearGradient>
<rect x="629.3" y="257.3" width="40.30000000000007" height="69" fill="url(#sg20)" opacity="1"/>
<linearGradient id="sg21" x1="0" y1="0" x2="0" y2="1"><stop offset="0.000" stop-color="#ffffff" stop-opacity="0.16"/><stop offset="0.350" stop-color="#ffffff" stop-opacity="0.0"/><stop offset="0.700" stop-color="#000000" stop-opacity="0.0"/><stop offset="1.000" stop-color="#000000" stop-opacity="0.08"/></linearGradient>
<rect x="629.3" y="257.3" width="40.30000000000007" height="69" fill="url(#sg21)" opacity="1"/>
<filter id="sn22" filterUnits="userSpaceOnUse" x="629.3" y="257.3" width="40.30000000000007" height="69" color-interpolation-filters="sRGB"><feTurbulence type="fractalNoise" baseFrequency="0.6" numOctaves="2" seed="4" result="t"/><feColorMatrix in="t" type="matrix" values="0 0 0 0 0.9  0 0 0 0 0.97  0 0 0 0 0.95  2.2 0 0 0 -1.1"/></filter>
<rect x="629.3" y="257.3" width="40.30000000000007" height="69" fill="#000" filter="url(#sn22)" opacity="0.24"/>
<filter id="sn23" filterUnits="userSpaceOnUse" x="629.3" y="257.3" width="40.30000000000007" height="69" color-interpolation-filters="sRGB"><feTurbulence type="fractalNoise" baseFrequency="0.6" numOctaves="2" seed="14" result="t"/><feColorMatrix in="t" type="matrix" values="0 0 0 0 0.15  0 0 0 0 0.19  0 0 0 0 0.2  2.2 0 0 0 -1.1"/></filter>
<rect x="629.3" y="257.3" width="40.30000000000007" height="69" fill="#000" filter="url(#sn23)" opacity="0.25"/>
<rect x="491" y="335.5" width="42.200000000000045" height="67.5" fill="#7a9690"/>
<radialGradient id="sg24" cx="0.42" cy="0.5" r="0.5" gradientTransform="translate(0.42,0.5) scale(1.1,1.5) translate(-0.42,-0.5)"><stop offset="0.000" stop-color="#3e4d4d"/><stop offset="0.450" stop-color="#3e4d4d" stop-opacity="0.75"/><stop offset="1.000" stop-color="#3e4d4d" stop-opacity="0"/></radialGradient>
<rect x="491" y="335.5" width="42.200000000000045" height="67.5" fill="url(#sg24)" opacity="1"/>
<filter id="sn25" filterUnits="userSpaceOnUse" x="491" y="335.5" width="42.200000000000045" height="67.5" color-interpolation-filters="sRGB"><feTurbulence type="fractalNoise" baseFrequency="0.6" numOctaves="2" seed="5" result="t"/><feColorMatrix in="t" type="matrix" values="0 0 0 0 0.85  0 0 0 0 0.95  0 0 0 0 0.92  2.2 0 0 0 -1.1"/></filter>
<rect x="491" y="335.5" width="42.200000000000045" height="67.5" fill="#000" filter="url(#sn25)" opacity="0.2"/>
<filter id="sn26" filterUnits="userSpaceOnUse" x="491" y="335.5" width="42.200000000000045" height="67.5" color-interpolation-filters="sRGB"><feTurbulence type="fractalNoise" baseFrequency="0.6" numOctaves="2" seed="15" result="t"/><feColorMatrix in="t" type="matrix" values="0 0 0 0 0.15  0 0 0 0 0.2  0 0 0 0 0.2  2.2 0 0 0 -1.1"/></filter>
<rect x="491" y="335.5" width="42.200000000000045" height="67.5" fill="#000" filter="url(#sn26)" opacity="0.22"/>
<rect x="535.8" y="335.5" width="40.80000000000007" height="67.5" fill="#7c9892"/>
<radialGradient id="sg27" cx="0.42" cy="0.5" r="0.5" gradientTransform="translate(0.42,0.5) scale(1.1,1.5) translate(-0.42,-0.5)"><stop offset="0.000" stop-color="#404f4f"/><stop offset="0.450" stop-color="#404f4f" stop-opacity="0.75"/><stop offset="1.000" stop-color="#404f4f" stop-opacity="0"/></radialGradient>
<rect x="535.8" y="335.5" width="40.80000000000007" height="67.5" fill="url(#sg27)" opacity="1"/>
<filter id="sn28" filterUnits="userSpaceOnUse" x="535.8" y="335.5" width="40.80000000000007" height="67.5" color-interpolation-filters="sRGB"><feTurbulence type="fractalNoise" baseFrequency="0.6" numOctaves="2" seed="6" result="t"/><feColorMatrix in="t" type="matrix" values="0 0 0 0 0.85  0 0 0 0 0.95  0 0 0 0 0.92  2.2 0 0 0 -1.1"/></filter>
<rect x="535.8" y="335.5" width="40.80000000000007" height="67.5" fill="#000" filter="url(#sn28)" opacity="0.2"/>
<filter id="sn29" filterUnits="userSpaceOnUse" x="535.8" y="335.5" width="40.80000000000007" height="67.5" color-interpolation-filters="sRGB"><feTurbulence type="fractalNoise" baseFrequency="0.6" numOctaves="2" seed="16" result="t"/><feColorMatrix in="t" type="matrix" values="0 0 0 0 0.15  0 0 0 0 0.2  0 0 0 0 0.2  2.2 0 0 0 -1.1"/></filter>
<rect x="535.8" y="335.5" width="40.80000000000007" height="67.5" fill="#000" filter="url(#sn29)" opacity="0.22"/>
<rect x="582.5" y="335.5" width="43.700000000000045" height="67.5" fill="#7a9490"/>
<radialGradient id="sg30" cx="0.42" cy="0.5" r="0.5" gradientTransform="translate(0.42,0.5) scale(1.1,1.5) translate(-0.42,-0.5)"><stop offset="0.000" stop-color="#62797a"/><stop offset="0.450" stop-color="#62797a" stop-opacity="0.75"/><stop offset="1.000" stop-color="#62797a" stop-opacity="0"/></radialGradient>
<rect x="582.5" y="335.5" width="43.700000000000045" height="67.5" fill="url(#sg30)" opacity="1"/>
<filter id="sn31" filterUnits="userSpaceOnUse" x="582.5" y="335.5" width="43.700000000000045" height="67.5" color-interpolation-filters="sRGB"><feTurbulence type="fractalNoise" baseFrequency="0.6" numOctaves="2" seed="7" result="t"/><feColorMatrix in="t" type="matrix" values="0 0 0 0 0.85  0 0 0 0 0.95  0 0 0 0 0.92  2.2 0 0 0 -1.1"/></filter>
<rect x="582.5" y="335.5" width="43.700000000000045" height="67.5" fill="#000" filter="url(#sn31)" opacity="0.2"/>
<filter id="sn32" filterUnits="userSpaceOnUse" x="582.5" y="335.5" width="43.700000000000045" height="67.5" color-interpolation-filters="sRGB"><feTurbulence type="fractalNoise" baseFrequency="0.6" numOctaves="2" seed="17" result="t"/><feColorMatrix in="t" type="matrix" values="0 0 0 0 0.15  0 0 0 0 0.2  0 0 0 0 0.2  2.2 0 0 0 -1.1"/></filter>
<rect x="582.5" y="335.5" width="43.700000000000045" height="67.5" fill="#000" filter="url(#sn32)" opacity="0.22"/>
<rect x="629.3" y="335.5" width="40.30000000000007" height="67.5" fill="#7c9692"/>
<radialGradient id="sg33" cx="0.42" cy="0.5" r="0.5" gradientTransform="translate(0.42,0.5) scale(1.1,1.5) translate(-0.42,-0.5)"><stop offset="0.000" stop-color="#647b7c"/><stop offset="0.450" stop-color="#647b7c" stop-opacity="0.75"/><stop offset="1.000" stop-color="#647b7c" stop-opacity="0"/></radialGradient>
<rect x="629.3" y="335.5" width="40.30000000000007" height="67.5" fill="url(#sg33)" opacity="1"/>
<filter id="sn34" filterUnits="userSpaceOnUse" x="629.3" y="335.5" width="40.30000000000007" height="67.5" color-interpolation-filters="sRGB"><feTurbulence type="fractalNoise" baseFrequency="0.6" numOctaves="2" seed="8" result="t"/><feColorMatrix in="t" type="matrix" values="0 0 0 0 0.85  0 0 0 0 0.95  0 0 0 0 0.92  2.2 0 0 0 -1.1"/></filter>
<rect x="629.3" y="335.5" width="40.30000000000007" height="67.5" fill="#000" filter="url(#sn34)" opacity="0.2"/>
<filter id="sn35" filterUnits="userSpaceOnUse" x="629.3" y="335.5" width="40.30000000000007" height="67.5" color-interpolation-filters="sRGB"><feTurbulence type="fractalNoise" baseFrequency="0.6" numOctaves="2" seed="18" result="t"/><feColorMatrix in="t" type="matrix" values="0 0 0 0 0.15  0 0 0 0 0.2  0 0 0 0 0.2  2.2 0 0 0 -1.1"/></filter>
<rect x="629.3" y="335.5" width="40.30000000000007" height="67.5" fill="#000" filter="url(#sn35)" opacity="0.22"/>
<text x="475.7" y="254" font-size="7" font-weight="bold" text-anchor="start" fill="#111" textLength="18.8" lengthAdjust="spacingAndGlyphs">Day 0</text>
<text x="473" y="334.2" font-size="7" font-weight="bold" text-anchor="start" fill="#111" textLength="18.3" lengthAdjust="spacingAndGlyphs">Day 1</text>
<text x="511.7" y="253.5" font-size="7" font-weight="bold" text-anchor="middle" fill="#333">-</text>
<text x="555.8" y="253.5" font-size="7" font-weight="bold" text-anchor="middle" fill="#333">+</text>
<text x="600.9" y="253.5" font-size="7" font-weight="bold" text-anchor="middle" fill="#333">-</text>
<text x="645" y="253.5" font-size="7" font-weight="bold" text-anchor="middle" fill="#333">+</text>
<text transform="translate(11.3,466) scale(1.04,1.03)" x="0" y="0" font-size="33" font-weight="bold">d</text>
<line x1="81" y1="487" x2="81" y2="675" stroke="#000" stroke-width="2.2"/>
<line x1="74.5" y1="673.8" x2="81" y2="673.8" stroke="#000" stroke-width="2"/>
<text x="71" y="678.4" font-size="13" font-weight="bold" text-anchor="end" fill="#111">0</text>
<line x1="74.5" y1="636.62" x2="81" y2="636.62" stroke="#000" stroke-width="2"/>
<text x="71" y="641.22" font-size="13" font-weight="bold" text-anchor="end" fill="#111" textLength="22.3" lengthAdjust="spacingAndGlyphs">100</text>
<line x1="74.5" y1="599.4399999999999" x2="81" y2="599.4399999999999" stroke="#000" stroke-width="2"/>
<text x="71" y="604.04" font-size="13" font-weight="bold" text-anchor="end" fill="#111" textLength="22.3" lengthAdjust="spacingAndGlyphs">200</text>
<line x1="74.5" y1="562.26" x2="81" y2="562.26" stroke="#000" stroke-width="2"/>
<text x="71" y="566.86" font-size="13" font-weight="bold" text-anchor="end" fill="#111" textLength="22.3" lengthAdjust="spacingAndGlyphs">300</text>
<line x1="74.5" y1="525.0799999999999" x2="81" y2="525.0799999999999" stroke="#000" stroke-width="2"/>
<text x="71" y="529.68" font-size="13" font-weight="bold" text-anchor="end" fill="#111" textLength="22.3" lengthAdjust="spacingAndGlyphs">400</text>
<line x1="74.5" y1="487.9" x2="81" y2="487.9" stroke="#000" stroke-width="2"/>
<text x="71" y="492.5" font-size="13" font-weight="bold" text-anchor="end" fill="#111" textLength="22.3" lengthAdjust="spacingAndGlyphs">500</text>
<line x1="80" y1="673.8" x2="267.5" y2="673.8" stroke="#000" stroke-width="2.2"/>
<text transform="translate(41,577.8) rotate(-90)" x="0" y="0" font-size="13.5" font-weight="bold" text-anchor="middle" fill="#111" textLength="117.8" lengthAdjust="spacingAndGlyphs">Colonies/Frame</text>
<rect x="98" y="567.4" width="24" height="106.39999999999998" fill="none" stroke="#80c41c" stroke-width="3"/>
<rect x="140.8" y="536.2" width="24" height="137.5999999999999" fill="none" stroke="#ff6612" stroke-width="3"/>
<rect x="183.9" y="574.3" width="24" height="99.5" fill="none" stroke="#a51ff0" stroke-width="3"/>
<rect x="226.9" y="573.1" width="24" height="100.69999999999993" fill="none" stroke="#34e2d2" stroke-width="3"/>
<line x1="80" y1="673.8" x2="267.5" y2="673.8" stroke="#000" stroke-width="2.2"/>
<circle cx="99.3" cy="549.6" r="4.1" fill="#80c41c"/>
<circle cx="106.2" cy="551" r="4.1" fill="#80c41c"/>
<circle cx="113.1" cy="547.4" r="4.1" fill="#80c41c"/>
<circle cx="120.8" cy="553.8" r="4.1" fill="#80c41c"/>
<circle cx="99.3" cy="557.4" r="4.1" fill="#80c41c"/>
<circle cx="107.6" cy="562" r="4.1" fill="#80c41c"/>
<circle cx="113.1" cy="564.8" r="4.1" fill="#80c41c"/>
<circle cx="106.2" cy="572.3" r="4.1" fill="#80c41c"/>
<circle cx="99.3" cy="578.6" r="4.1" fill="#80c41c"/>
<circle cx="112.5" cy="586" r="4.1" fill="#80c41c"/>
<circle cx="120.8" cy="585" r="4.1" fill="#80c41c"/>
<circle cx="99.3" cy="591" r="4.1" fill="#80c41c"/>
<rect x="143.79999999999998" y="499.9" width="7.6" height="7.6" fill="#ff6612"/>
<rect x="148.89999999999998" y="503.59999999999997" width="7.6" height="7.6" fill="#ff6612"/>
<rect x="148.89999999999998" y="505.8" width="7.6" height="7.6" fill="#ff6612"/>
<rect x="148.89999999999998" y="514.5" width="7.6" height="7.6" fill="#ff6612"/>
<rect x="138.7" y="521.1" width="7.6" height="7.6" fill="#ff6612"/>
<rect x="148.89999999999998" y="520.3000000000001" width="7.6" height="7.6" fill="#ff6612"/>
<rect x="159.1" y="521.1" width="7.6" height="7.6" fill="#ff6612"/>
<rect x="143.79999999999998" y="522.5" width="7.6" height="7.6" fill="#ff6612"/>
<rect x="154.0" y="522.5" width="7.6" height="7.6" fill="#ff6612"/>
<rect x="148.89999999999998" y="526.9000000000001" width="7.6" height="7.6" fill="#ff6612"/>
<rect x="146.7" y="550.9000000000001" width="7.6" height="7.6" fill="#ff6612"/>
<rect x="152.5" y="550.9000000000001" width="7.6" height="7.6" fill="#ff6612"/>
<rect x="148.89999999999998" y="567.0" width="7.6" height="7.6" fill="#ff6612"/>
<rect x="148.89999999999998" y="575.7" width="7.6" height="7.6" fill="#ff6612"/>
<polygon points="188.5,540.13 184.2,548.37 192.8,548.37" fill="#a51ff0"/>
<polygon points="195.6,539.43 191.29999999999998,547.67 199.9,547.67" fill="#a51ff0"/>
<polygon points="202.8,539.13 198.5,547.37 207.10000000000002,547.37" fill="#a51ff0"/>
<polygon points="195.6,549.33 191.29999999999998,557.57 199.9,557.57" fill="#a51ff0"/>
<polygon points="192.1,561.13 187.79999999999998,569.37 196.4,569.37" fill="#a51ff0"/>
<polygon points="185.4,566.93 181.1,575.17 189.70000000000002,575.17" fill="#a51ff0"/>
<polygon points="199.5,566.93 195.2,575.17 203.8,575.17" fill="#a51ff0"/>
<polygon points="206.3,566.93 202.0,575.17 210.60000000000002,575.17" fill="#a51ff0"/>
<polygon points="195.6,579.13 191.29999999999998,587.37 199.9,587.37" fill="#a51ff0"/>
<polygon points="195.6,589.83 191.29999999999998,598.07 199.9,598.07" fill="#a51ff0"/>
<polygon points="195.6,604.33 191.29999999999998,612.57 199.9,612.57" fill="#a51ff0"/>
<polygon points="195.6,631.13 191.29999999999998,639.37 199.9,639.37" fill="#a51ff0"/>
<polygon points="238.9,542.77 234.6,534.53 243.20000000000002,534.53" fill="#34e2d2"/>
<polygon points="227.7,555.77 223.39999999999998,547.53 232.0,547.53" fill="#34e2d2"/>
<polygon points="233.9,552.67 229.6,544.43 238.20000000000002,544.43" fill="#34e2d2"/>
<polygon points="238.9,559.57 234.6,551.33 243.20000000000002,551.33" fill="#34e2d2"/>
<polygon points="243.8,557.27 239.5,549.03 248.10000000000002,549.03" fill="#34e2d2"/>
<polygon points="249.9,554.27 245.6,546.03 254.20000000000002,546.03" fill="#34e2d2"/>
<polygon points="236.2,568.77 231.89999999999998,560.53 240.5,560.53" fill="#34e2d2"/>
<polygon points="242.3,568.77 238.0,560.53 246.60000000000002,560.53" fill="#34e2d2"/>
<polygon points="238.9,583.27 234.6,575.03 243.20000000000002,575.03" fill="#34e2d2"/>
<polygon points="238.4,613.07 234.1,604.83 242.70000000000002,604.83" fill="#34e2d2"/>
<polygon points="243.8,610.07 239.5,601.83 248.10000000000002,601.83" fill="#34e2d2"/>
<polygon points="238.9,633.77 234.6,625.53 243.20000000000002,625.53" fill="#34e2d2"/>
<line x1="110" y1="551" x2="110" y2="582.2" stroke="#80c41c" stroke-width="1.5"/>
<line x1="104.0" y1="551" x2="116.0" y2="551" stroke="#80c41c" stroke-width="1.5"/>
<line x1="104.0" y1="582.2" x2="116.0" y2="582.2" stroke="#80c41c" stroke-width="1.5"/>
<line x1="153" y1="510.5" x2="153" y2="562" stroke="#ff6612" stroke-width="1.5"/>
<line x1="147.0" y1="510.5" x2="159.0" y2="510.5" stroke="#ff6612" stroke-width="1.5"/>
<line x1="147.0" y1="562" x2="159.0" y2="562" stroke="#ff6612" stroke-width="1.5"/>
<line x1="195.8" y1="545.3" x2="195.8" y2="601.9" stroke="#a51ff0" stroke-width="1.5"/>
<line x1="189.8" y1="545.3" x2="201.8" y2="545.3" stroke="#a51ff0" stroke-width="1.5"/>
<line x1="189.8" y1="601.9" x2="201.8" y2="601.9" stroke="#a51ff0" stroke-width="1.5"/>
<line x1="238.9" y1="543.5" x2="238.9" y2="600.6" stroke="#34e2d2" stroke-width="1.5"/>
<line x1="232.9" y1="543.5" x2="244.9" y2="543.5" stroke="#34e2d2" stroke-width="1.5"/>
<line x1="232.9" y1="600.6" x2="244.9" y2="600.6" stroke="#34e2d2" stroke-width="1.5"/>
<polyline points="110.3,536.6 110.3,481.8 149.6,481.8 149.6,492.3" fill="none" stroke="#000" stroke-width="2" stroke-linejoin="miter" stroke-linecap="butt"/>
<polyline points="156.2,492.3 156.2,481.8 195.3,481.8 195.3,530.5" fill="none" stroke="#000" stroke-width="2" stroke-linejoin="miter" stroke-linecap="butt"/>
<polyline points="152.8,470.1 152.8,441.9 238.5,441.9 238.5,530.2" fill="none" stroke="#000" stroke-width="2" stroke-linejoin="miter" stroke-linecap="butt"/>
<path d="M129.70,462.90L129.70,471.30M126.06,465.00L133.34,469.20M133.34,465.00L126.06,469.20" stroke="#000" stroke-width="1.9" fill="none"/>
<path d="M169.90,462.90L169.90,471.30M166.26,465.00L173.54,469.20M173.54,465.00L166.26,469.20" stroke="#000" stroke-width="1.9" fill="none"/>
<path d="M181.80,462.90L181.80,471.30M178.16,465.00L185.44,469.20M185.44,465.00L178.16,469.20" stroke="#000" stroke-width="1.9" fill="none"/>
<path d="M189.60,423.50L189.60,431.90M185.96,425.60L193.24,429.80M193.24,425.60L185.96,429.80" stroke="#000" stroke-width="1.9" fill="none"/>
<path d="M201.10,423.50L201.10,431.90M197.46,425.60L204.74,429.80M204.74,425.60L197.46,429.80" stroke="#000" stroke-width="1.9" fill="none"/>
<line x1="110" y1="674" x2="110" y2="680.5" stroke="#000" stroke-width="1.8"/>
<text x="110" y="695" font-size="12" font-weight="bold" text-anchor="middle" fill="#111">-</text>
<line x1="152.8" y1="674" x2="152.8" y2="680.5" stroke="#000" stroke-width="1.8"/>
<text x="152.8" y="695" font-size="12" font-weight="bold" text-anchor="middle" fill="#111">+</text>
<line x1="195.9" y1="674" x2="195.9" y2="680.5" stroke="#000" stroke-width="1.8"/>
<text x="195.9" y="695" font-size="12" font-weight="bold" text-anchor="middle" fill="#111">-</text>
<line x1="238.9" y1="674" x2="238.9" y2="680.5" stroke="#000" stroke-width="1.8"/>
<text x="238.9" y="695" font-size="12" font-weight="bold" text-anchor="middle" fill="#111">+</text>
<text x="41.9" y="696" font-size="15.5" font-weight="bold" text-anchor="start" fill="#111" textLength="54.4" lengthAdjust="spacingAndGlyphs">1nM E2</text>
<line x1="46.7" y1="703.8" x2="90.2" y2="703.8" stroke="#000" stroke-width="3"/>
<text transform="translate(340.6,465.6) scale(1.05,1.0)" x="0" y="0" font-size="32" font-weight="bold">e</text>
<line x1="391.8" y1="506.5" x2="391.8" y2="670.3" stroke="#000" stroke-width="2"/>
<line x1="385" y1="669.3" x2="391.8" y2="669.3" stroke="#000" stroke-width="1.8"/>
<text x="382.5" y="673.5999999999999" font-size="12" font-weight="bold" text-anchor="end" fill="#222">0</text>
<line x1="385" y1="636.9" x2="391.8" y2="636.9" stroke="#000" stroke-width="1.8"/>
<text x="382.5" y="641.1999999999999" font-size="12" font-weight="bold" text-anchor="end" fill="#222">1</text>
<line x1="385" y1="604.5" x2="391.8" y2="604.5" stroke="#000" stroke-width="1.8"/>
<text x="382.5" y="608.8" font-size="12" font-weight="bold" text-anchor="end" fill="#222">2</text>
<line x1="385" y1="572.0999999999999" x2="391.8" y2="572.0999999999999" stroke="#000" stroke-width="1.8"/>
<text x="382.5" y="576.3999999999999" font-size="12" font-weight="bold" text-anchor="end" fill="#222">3</text>
<line x1="385" y1="539.6999999999999" x2="391.8" y2="539.6999999999999" stroke="#000" stroke-width="1.8"/>
<text x="382.5" y="543.9999999999999" font-size="12" font-weight="bold" text-anchor="end" fill="#222">4</text>
<line x1="385" y1="507.29999999999995" x2="391.8" y2="507.29999999999995" stroke="#000" stroke-width="1.8"/>
<text x="382.5" y="511.59999999999997" font-size="12" font-weight="bold" text-anchor="end" fill="#222">5</text>
<line x1="385" y1="669.3" x2="635.8" y2="669.3" stroke="#000" stroke-width="2"/>
<line x1="391.8" y1="669.3" x2="391.8" y2="676" stroke="#000" stroke-width="1.8"/>
<text x="391.8" y="689" font-size="12" font-weight="bold" text-anchor="middle" fill="#222">0</text>
<line x1="432.3" y1="669.3" x2="432.3" y2="676" stroke="#000" stroke-width="1.8"/>
<text x="432.3" y="689" font-size="12" font-weight="bold" text-anchor="middle" fill="#222">1</text>
<line x1="472.8" y1="669.3" x2="472.8" y2="676" stroke="#000" stroke-width="1.8"/>
<text x="472.8" y="689" font-size="12" font-weight="bold" text-anchor="middle" fill="#222">2</text>
<line x1="513.3" y1="669.3" x2="513.3" y2="676" stroke="#000" stroke-width="1.8"/>
<text x="513.3" y="689" font-size="12" font-weight="bold" text-anchor="middle" fill="#222">3</text>
<line x1="553.8" y1="669.3" x2="553.8" y2="676" stroke="#000" stroke-width="1.8"/>
<text x="553.8" y="689" font-size="12" font-weight="bold" text-anchor="middle" fill="#222">4</text>
<line x1="594.3" y1="669.3" x2="594.3" y2="676" stroke="#000" stroke-width="1.8"/>
<text x="594.3" y="689" font-size="12" font-weight="bold" text-anchor="middle" fill="#222">5</text>
<line x1="634.8" y1="669.3" x2="634.8" y2="676" stroke="#000" stroke-width="1.8"/>
<text x="634.8" y="689" font-size="12" font-weight="bold" text-anchor="middle" fill="#222">6</text>
<text x="512.2" y="709.5" font-size="13" font-weight="bold" text-anchor="middle" fill="#111">Day</text>
<text transform="translate(367.5,587) rotate(-90)" x="0" y="0" font-size="13.3" font-weight="bold" text-anchor="middle" fill="#111" textLength="180" lengthAdjust="spacingAndGlyphs" xml:space="preserve">Fold Change in  Absorbance</text>
<g opacity="0.55">
<line x1="513.3" y1="608.0" x2="513.3" y2="617.0" stroke="#a51ff0" stroke-width="1.6"/>
<line x1="509.29999999999995" y1="608.0" x2="517.3" y2="608.0" stroke="#a51ff0" stroke-width="1.6"/>
<line x1="509.29999999999995" y1="617.0" x2="517.3" y2="617.0" stroke="#a51ff0" stroke-width="1.6"/>
</g>
<g opacity="0.55">
<line x1="553.8" y1="589.3" x2="553.8" y2="601.3" stroke="#a51ff0" stroke-width="1.6"/>
<line x1="549.8" y1="589.3" x2="557.8" y2="589.3" stroke="#a51ff0" stroke-width="1.6"/>
<line x1="549.8" y1="601.3" x2="557.8" y2="601.3" stroke="#a51ff0" stroke-width="1.6"/>
</g>
<g opacity="0.55">
<line x1="594.3" y1="563.6" x2="594.3" y2="569.6" stroke="#a51ff0" stroke-width="1.6"/>
<line x1="590.3" y1="563.6" x2="598.3" y2="563.6" stroke="#a51ff0" stroke-width="1.6"/>
<line x1="590.3" y1="569.6" x2="598.3" y2="569.6" stroke="#a51ff0" stroke-width="1.6"/>
</g>
<g opacity="0.55">
<line x1="634.8" y1="553.5" x2="634.8" y2="565.5" stroke="#a51ff0" stroke-width="1.6"/>
<line x1="630.8" y1="553.5" x2="638.8" y2="553.5" stroke="#a51ff0" stroke-width="1.6"/>
<line x1="630.8" y1="565.5" x2="638.8" y2="565.5" stroke="#a51ff0" stroke-width="1.6"/>
</g>
<polyline points="391.8,636.8 513.3,612.5 553.8,595.3 594.3,566.6 634.8,559.5" fill="none" stroke="#a51ff0" stroke-width="2.6" stroke-linejoin="round"/>
<polygon points="391.8,632.6999999999999 387.8,640.4 395.8,640.4" fill="#a51ff0"/>
<polygon points="513.3,608.4 509.29999999999995,616.1 517.3,616.1" fill="#a51ff0"/>
<polygon points="553.8,591.1999999999999 549.8,598.9 557.8,598.9" fill="#a51ff0"/>
<polygon points="594.3,562.5 590.3,570.2 598.3,570.2" fill="#a51ff0"/>
<polygon points="634.8,555.4 630.8,563.1 638.8,563.1" fill="#a51ff0"/>
<g opacity="0.55">
<line x1="513.3" y1="591.4" x2="513.3" y2="605.4" stroke="#34e2d2" stroke-width="1.6"/>
<line x1="509.29999999999995" y1="591.4" x2="517.3" y2="591.4" stroke="#34e2d2" stroke-width="1.6"/>
<line x1="509.29999999999995" y1="605.4" x2="517.3" y2="605.4" stroke="#34e2d2" stroke-width="1.6"/>
</g>
<g opacity="0.55">
<line x1="553.8" y1="554.7" x2="553.8" y2="564.7" stroke="#34e2d2" stroke-width="1.6"/>
<line x1="549.8" y1="554.7" x2="557.8" y2="554.7" stroke="#34e2d2" stroke-width="1.6"/>
<line x1="549.8" y1="564.7" x2="557.8" y2="564.7" stroke="#34e2d2" stroke-width="1.6"/>
</g>
<g opacity="0.55">
<line x1="594.3" y1="532.5" x2="594.3" y2="540.5" stroke="#34e2d2" stroke-width="1.6"/>
<line x1="590.3" y1="532.5" x2="598.3" y2="532.5" stroke="#34e2d2" stroke-width="1.6"/>
<line x1="590.3" y1="540.5" x2="598.3" y2="540.5" stroke="#34e2d2" stroke-width="1.6"/>
</g>
<g opacity="0.55">
<line x1="634.8" y1="518.6" x2="634.8" y2="528.6" stroke="#34e2d2" stroke-width="1.6"/>
<line x1="630.8" y1="518.6" x2="638.8" y2="518.6" stroke="#34e2d2" stroke-width="1.6"/>
<line x1="630.8" y1="528.6" x2="638.8" y2="528.6" stroke="#34e2d2" stroke-width="1.6"/>
</g>
<polyline points="391.8,636.8 513.3,598.4 553.8,559.7 594.3,536.5 634.8,523.6" fill="none" stroke="#34e2d2" stroke-width="2.6" stroke-linejoin="round"/>
<circle cx="391.8" cy="636.8" r="4.0" fill="#34e2d2"/>
<circle cx="513.3" cy="598.4" r="4.0" fill="#34e2d2"/>
<circle cx="553.8" cy="559.7" r="4.0" fill="#34e2d2"/>
<circle cx="594.3" cy="536.5" r="4.0" fill="#34e2d2"/>
<circle cx="634.8" cy="523.6" r="4.0" fill="#34e2d2"/>
<g opacity="0.55">
<line x1="513.3" y1="565.6" x2="513.3" y2="577.6" stroke="#ff6612" stroke-width="1.6"/>
<line x1="509.29999999999995" y1="565.6" x2="517.3" y2="565.6" stroke="#ff6612" stroke-width="1.6"/>
<line x1="509.29999999999995" y1="577.6" x2="517.3" y2="577.6" stroke="#ff6612" stroke-width="1.6"/>
</g>
<g opacity="0.55">
<line x1="553.8" y1="541.5" x2="553.8" y2="555.5" stroke="#ff6612" stroke-width="1.6"/>
<line x1="549.8" y1="541.5" x2="557.8" y2="541.5" stroke="#ff6612" stroke-width="1.6"/>
<line x1="549.8" y1="555.5" x2="557.8" y2="555.5" stroke="#ff6612" stroke-width="1.6"/>
</g>
<g opacity="0.55">
<line x1="594.3" y1="526.8" x2="594.3" y2="536.8" stroke="#ff6612" stroke-width="1.6"/>
<line x1="590.3" y1="526.8" x2="598.3" y2="526.8" stroke="#ff6612" stroke-width="1.6"/>
<line x1="590.3" y1="536.8" x2="598.3" y2="536.8" stroke="#ff6612" stroke-width="1.6"/>
</g>
<g opacity="0.55">
<line x1="634.8" y1="533.6" x2="634.8" y2="549.6" stroke="#ff6612" stroke-width="1.6"/>
<line x1="630.8" y1="533.6" x2="638.8" y2="533.6" stroke="#ff6612" stroke-width="1.6"/>
<line x1="630.8" y1="549.6" x2="638.8" y2="549.6" stroke="#ff6612" stroke-width="1.6"/>
</g>
<polyline points="391.8,638.0 513.3,571.6 553.8,548.5 594.3,531.8 634.8,541.6" fill="none" stroke="#ff6612" stroke-width="2.6" stroke-linejoin="round"/>
<rect x="387.8" y="634.0" width="8" height="8" fill="#ff6612"/>
<rect x="509.29999999999995" y="567.6" width="8" height="8" fill="#ff6612"/>
<rect x="549.8" y="544.5" width="8" height="8" fill="#ff6612"/>
<rect x="590.3" y="527.8" width="8" height="8" fill="#ff6612"/>
<rect x="630.8" y="537.6" width="8" height="8" fill="#ff6612"/>
<g opacity="0.55">
<line x1="513.3" y1="582.8" x2="513.3" y2="590.8" stroke="#80c41c" stroke-width="1.6"/>
<line x1="509.29999999999995" y1="582.8" x2="517.3" y2="582.8" stroke="#80c41c" stroke-width="1.6"/>
<line x1="509.29999999999995" y1="590.8" x2="517.3" y2="590.8" stroke="#80c41c" stroke-width="1.6"/>
</g>
<g opacity="0.55">
<line x1="553.8" y1="552.4" x2="553.8" y2="570.4" stroke="#80c41c" stroke-width="1.6"/>
<line x1="549.8" y1="552.4" x2="557.8" y2="552.4" stroke="#80c41c" stroke-width="1.6"/>
<line x1="549.8" y1="570.4" x2="557.8" y2="570.4" stroke="#80c41c" stroke-width="1.6"/>
</g>
<g opacity="0.55">
<line x1="594.3" y1="550.8" x2="594.3" y2="562.8" stroke="#80c41c" stroke-width="1.6"/>
<line x1="590.3" y1="550.8" x2="598.3" y2="550.8" stroke="#80c41c" stroke-width="1.6"/>
<line x1="590.3" y1="562.8" x2="598.3" y2="562.8" stroke="#80c41c" stroke-width="1.6"/>
</g>
<g opacity="0.55">
<line x1="634.8" y1="552.3" x2="634.8" y2="562.3" stroke="#80c41c" stroke-width="1.6"/>
<line x1="630.8" y1="552.3" x2="638.8" y2="552.3" stroke="#80c41c" stroke-width="1.6"/>
<line x1="630.8" y1="562.3" x2="638.8" y2="562.3" stroke="#80c41c" stroke-width="1.6"/>
</g>
<polyline points="391.8,636.6 513.3,586.8 553.8,561.4 594.3,556.8 634.8,557.3" fill="none" stroke="#80c41c" stroke-width="2.6" stroke-linejoin="round"/>
<polygon points="391.8,640.7 387.8,633.0 395.8,633.0" fill="#80c41c"/>
<polygon points="513.3,590.9 509.29999999999995,583.1999999999999 517.3,583.1999999999999" fill="#80c41c"/>
<polygon points="553.8,565.5 549.8,557.8 557.8,557.8" fill="#80c41c"/>
<polygon points="594.3,560.9 590.3,553.1999999999999 598.3,553.1999999999999" fill="#80c41c"/>
<polygon points="634.8,561.4 630.8,553.6999999999999 638.8,553.6999999999999" fill="#80c41c"/>
<line x1="391.8" y1="620" x2="391.8" y2="660" stroke="#000" stroke-width="2"/>
<line x1="409" y1="479.2" x2="426.3" y2="479.2" stroke="#ff6612" stroke-width="2.6"/>
<rect x="413.6" y="475.2" width="8" height="8" fill="#ff6612"/>
<text x="436" y="484.2" font-size="13.5" font-weight="normal" text-anchor="start" fill="#303030">NT MDA-MB-231 + E2</text>
<line x1="409" y1="494.3" x2="426.3" y2="494.3" stroke="#80c41c" stroke-width="2.6"/>
<polygon points="417.6,498.40000000000003 413.6,490.7 421.6,490.7" fill="#80c41c"/>
<text x="436" y="499.3" font-size="13.5" font-weight="normal" text-anchor="start" fill="#303030">NT MDA-MB-231 + Veh</text>
<line x1="409" y1="511.5" x2="426.3" y2="511.5" stroke="#a51ff0" stroke-width="2.6"/>
<polygon points="417.6,507.4 413.6,515.1 421.6,515.1" fill="#a51ff0"/>
<text x="436" y="516.5" font-size="13.5" font-weight="normal" text-anchor="start" fill="#303030">U1 MDA-MB-231 + Veh</text>
<line x1="409" y1="527.2" x2="426.3" y2="527.2" stroke="#34e2d2" stroke-width="2.6"/>
<circle cx="417.6" cy="527.2" r="4.0" fill="#34e2d2"/>
<text x="436" y="532.2" font-size="13.5" font-weight="normal" text-anchor="start" fill="#303030">U1 MDA-MB-231 + E2</text>
</svg></body></html>
